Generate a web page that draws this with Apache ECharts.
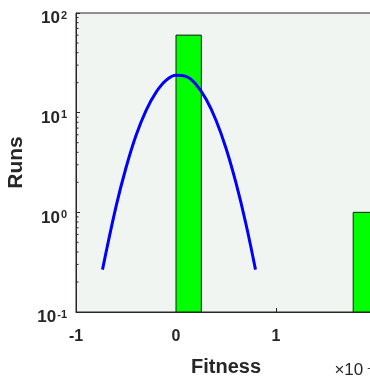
<!DOCTYPE html>
<html><head><meta charset="utf-8">
<script src="https://cdn.jsdelivr.net/npm/echarts@6/dist/echarts.min.js"></script>
<style>html,body{margin:0;padding:0;overflow:hidden;background:#fff}#c{width:400px;height:383px}</style>
</head><body><div id="c"></div>
<script>
// Histogram bins (left edge, right edge, count)
const binLeft = [0.0, 1.772];
const binRight = [0.253, 2.025];
const binCounts = [60, 1];
// Fitted normal curve
const fitX = [-0.735, -0.6, -0.5, -0.4, -0.3, -0.2, -0.1, 0.0, 0.1, 0.2, 0.3, 0.4, 0.5, 0.6, 0.7, 0.795];
const fitY = [0.266, 1.14, 2.8, 5.9, 10.5, 16.0, 21.1, 23.8, 23.1, 19.2, 13.7, 8.4, 4.4, 1.97, 0.76, 0.266];
// Axes
const xMin = -1, xMax = 2, xStep = 1;
const yMin = 0.1, yMax = 100;
const yMinorTicks = [0.2,0.3,0.4,0.5,0.6,0.7,0.8,0.9,2,3,4,5,6,7,8,9,20,30,40,50,60,70,80,90];

const FONT = 'Liberation Sans, Arial, Helvetica, sans-serif';
const AX = '#262626';
const chart = echarts.init(document.getElementById('c'), null, {renderer: 'canvas'});

const bars = binCounts.map((c, i) => [binLeft[i], binRight[i], c]);
const curve = fitX.map((x, i) => [x, fitY[i]]);

chart.setOption({
  animation: false,
  grid: {left: 76, right: 24, top: 13, bottom: 71, containLabel: false, outerBoundsMode: 'none',
    show: true, backgroundColor: '#f0f5f2', borderColor: AX, borderWidth: 1},
  xAxis: {
    type: 'value', min: xMin, max: xMax, interval: xStep,
    name: 'Fitness', nameLocation: 'middle', nameGap: 45,
    nameTextStyle: {fontFamily: FONT, fontWeight: 'bold', fontSize: 20, color: AX},
    axisLine: {show: true, onZero: false, lineStyle: {color: AX, width: 1}},
    axisTick: {show: true, inside: true, length: 4, lineStyle: {color: AX}},
    axisLabel: {fontFamily: FONT, fontWeight: 'bold', fontSize: 16, color: AX, margin: 17},
    splitLine: {show: false}
  },
  yAxis: {
    type: 'log', logBase: 10, min: yMin, max: yMax,
    name: 'Runs', nameLocation: 'middle', nameGap: 44,
    nameTextStyle: {fontFamily: FONT, fontWeight: 'bold', fontSize: 21, color: AX},
    axisLine: {show: true, onZero: false, lineStyle: {color: AX, width: 1}},
    axisTick: {show: true, inside: true, length: 4, lineStyle: {color: AX}},
    axisLabel: {
      margin: 9, padding: [11, 0, 0, 0],
      formatter: v => '{b|10}{s|' + Math.round(Math.log10(v)) + '}',
      rich: {
        b: {fontFamily: FONT, fontWeight: 'bold', fontSize: 17, lineHeight: 17, color: AX, verticalAlign: 'bottom', padding: [5, 0, 0, 0]},
        s: {fontFamily: FONT, fontWeight: 'bold', fontSize: 11, lineHeight: 11, color: AX, verticalAlign: 'top', padding: [0, 0, 0, 1]}
      }
    },
    splitLine: {show: false}
  },
  graphic: [{
    type: 'text', right: 23, bottom: 4,
    style: {
      text: '{b|×10}{s|-3}',
      rich: {
        b: {fontFamily: FONT, fontSize: 17, lineHeight: 17, fill: AX, verticalAlign: 'bottom', padding: [4, 0, 0, 0]},
        s: {fontFamily: FONT, fontSize: 11, lineHeight: 11, fill: AX, verticalAlign: 'top', padding: [0, 0, 0, 4]}
      }
    }
  }],
  series: [
    {
      type: 'custom', clip: true, z: 2,
      data: bars,
      renderItem: (params, api) => {
        const p0 = api.coord([api.value(0), api.value(2)]);
        const p1 = api.coord([api.value(1), yMin]);
        return {type: 'rect', shape: {x: p0[0], y: p0[1], width: p1[0] - p0[0], height: p1[1] - p0[1]},
          style: {fill: '#00ff00', stroke: '#1a1a1a', lineWidth: 1}};
      }
    },
    {
      type: 'line', data: curve, smooth: 0.4, showSymbol: false, symbol: 'none', z: 3,
      lineStyle: {color: '#0000ff', width: 3}
    },
    {
      type: 'custom', z: 4,
      data: yMinorTicks.map(v => [xMin, v]),
      renderItem: (params, api) => {
        const p = api.coord([api.value(0), api.value(1)]);
        return {type: 'line', shape: {x1: p[0], y1: p[1], x2: p[0] + 2.5, y2: p[1]},
          style: {stroke: AX, lineWidth: 1}};
      }
    }
  ]
});
</script>
</body></html>
